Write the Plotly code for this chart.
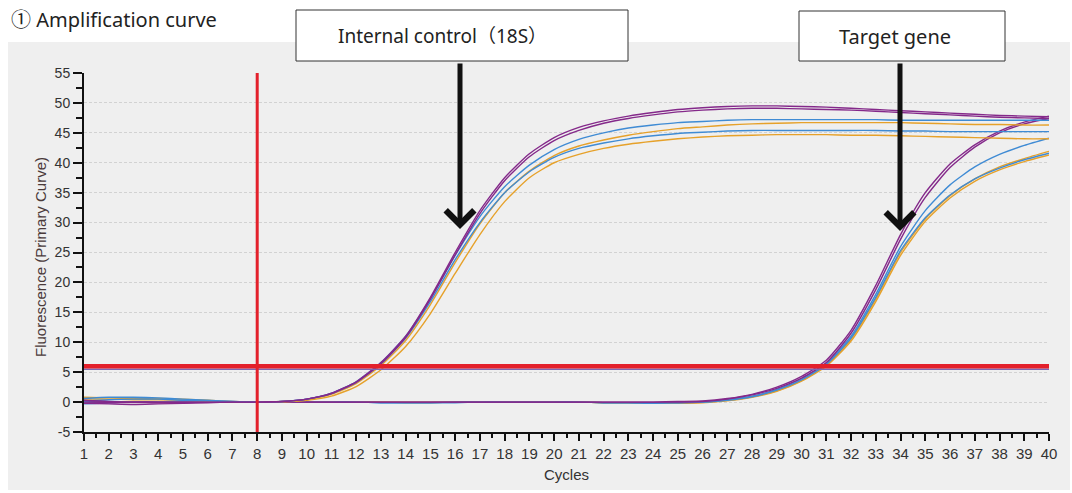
import plotly.graph_objects as go

# ---------------- data ----------------
cycles = [1, 2, 3, 4, 5, 6, 7, 8, 9, 10, 11, 12, 13, 14, 15, 16, 17, 18, 19, 20,
          21, 22, 23, 24, 25, 26, 27, 28, 29, 30, 31, 32, 33, 34, 35, 36, 37, 38, 39, 40]

# Internal control (18S) curves
ic_purple_1 = [0.3, 0.1, 0.0, 0.0, 0.0, 0.0, 0.0, 0.0, 0.1, 0.5, 1.5, 3.4, 6.6, 11.0, 17.5, 25.0, 32.0, 37.5, 41.5, 44.2,
               45.9, 47.0, 47.8, 48.4, 48.9, 49.2, 49.4, 49.5, 49.5, 49.4, 49.3, 49.1, 48.9, 48.7, 48.5, 48.3, 48.1, 47.9, 47.8, 47.7]
ic_purple_2 = [-0.2, -0.3, -0.4, -0.3, -0.2, -0.1, 0.0, 0.0, 0.1, 0.5, 1.4, 3.3, 6.4, 10.8, 17.2, 24.6, 31.5, 37.0, 41.0, 43.7,
               45.4, 46.6, 47.4, 48.0, 48.5, 48.8, 49.0, 49.1, 49.1, 49.0, 48.9, 48.8, 48.6, 48.4, 48.2, 48.0, 47.8, 47.6, 47.5, 47.4]
ic_blue_1 = [0.6, 0.8, 0.8, 0.7, 0.5, 0.3, 0.1, 0.0, 0.1, 0.5, 1.5, 3.4, 6.6, 11.0, 17.3, 24.5, 31.0, 36.0, 39.6, 42.2,
             43.9, 45.0, 45.8, 46.3, 46.7, 46.9, 47.1, 47.2, 47.2, 47.2, 47.2, 47.2, 47.2, 47.1, 47.1, 47.1, 47.1, 47.1, 47.1, 47.1]
ic_orange_1 = [0.8, 0.7, 0.6, 0.6, 0.5, 0.3, 0.1, 0.0, 0.1, 0.4, 1.3, 3.1, 6.1, 10.3, 16.3, 23.3, 29.8, 35.0, 38.6, 41.2,
               42.8, 43.8, 44.6, 45.2, 45.7, 46.0, 46.3, 46.5, 46.6, 46.7, 46.7, 46.7, 46.7, 46.7, 46.6, 46.5, 46.4, 46.4, 46.3, 46.3]
ic_blue_2 = [0.2, 0.4, 0.5, 0.5, 0.3, 0.2, 0.1, 0.0, 0.1, 0.5, 1.4, 3.3, 6.4, 10.7, 16.8, 23.8, 30.0, 35.0, 38.5, 40.9,
             42.4, 43.3, 44.0, 44.5, 44.9, 45.1, 45.3, 45.4, 45.4, 45.4, 45.4, 45.4, 45.4, 45.3, 45.3, 45.2, 45.2, 45.2, 45.2, 45.2]
ic_orange_2 = [0.5, 0.5, 0.4, 0.4, 0.3, 0.2, 0.0, 0.0, 0.05, 0.3, 1.0, 2.6, 5.4, 9.3, 14.8, 21.5, 28.0, 33.5, 37.5, 40.0,
               41.4, 42.4, 43.1, 43.6, 44.0, 44.3, 44.5, 44.6, 44.7, 44.7, 44.7, 44.6, 44.6, 44.5, 44.4, 44.3, 44.2, 44.1, 44.0, 44.0]

# Target gene curves
tg_purple_1 = [0.1, 0.0, 0.0, -0.1, -0.1, 0.0, 0.0, 0.0, 0.0, 0.0, 0.0, 0.0, 0.0, 0.0, 0.0, 0.0, 0.0, 0.0, 0.0, 0.0,
               0.0, 0.0, 0.0, 0.0, 0.1, 0.2, 0.6, 1.3, 2.5, 4.3, 7.0, 12.0, 19.5, 28.0, 35.0, 39.8, 43.0, 45.3, 46.8, 47.8]
tg_purple_2 = [-0.2, -0.1, 0.0, 0.0, 0.0, 0.0, 0.0, 0.0, 0.0, 0.0, 0.0, 0.0, 0.0, 0.0, 0.0, 0.0, 0.0, 0.0, 0.0, 0.0,
               0.0, 0.0, 0.0, 0.0, 0.0, 0.1, 0.5, 1.2, 2.3, 4.0, 6.6, 11.5, 18.8, 27.2, 34.2, 39.2, 42.6, 45.0, 46.5, 47.4]
tg_blue_1 = [-0.3, -0.1, 0.0, 0.0, 0.0, 0.0, 0.0, 0.0, 0.0, 0.0, 0.0, 0.0, -0.1, -0.1, -0.1, 0.0, 0.0, 0.0, 0.0, 0.0,
             0.0, -0.1, -0.1, -0.1, -0.1, 0.0, 0.4, 1.0, 2.1, 3.9, 6.5, 11.0, 18.0, 26.0, 32.0, 36.3, 39.3, 41.4, 42.9, 44.1]
tg_blue_2 = [0.0, 0.0, 0.0, 0.0, 0.0, 0.0, 0.0, 0.0, 0.0, 0.0, 0.0, 0.0, -0.1, -0.1, -0.1, -0.1, 0.0, 0.0, 0.0, 0.0,
             0.0, -0.1, -0.1, -0.2, -0.1, 0.0, 0.3, 0.9, 2.0, 3.7, 6.3, 10.7, 17.5, 25.3, 30.8, 34.6, 37.3, 39.1, 40.5, 41.6]
tg_orange_1 = [0.1, 0.0, 0.0, 0.0, 0.0, 0.0, 0.0, 0.0, 0.0, 0.0, 0.0, 0.0, 0.0, -0.1, -0.1, 0.0, 0.0, 0.0, 0.0, 0.0,
               0.0, -0.1, -0.1, -0.1, -0.1, 0.0, 0.3, 0.9, 1.9, 3.6, 6.2, 10.5, 17.2, 25.0, 30.6, 34.5, 37.3, 39.3, 40.7, 41.9]
tg_orange_2 = [0.0, 0.0, 0.0, 0.0, 0.0, 0.0, 0.0, 0.0, 0.0, 0.0, 0.0, 0.0, 0.0, 0.0, 0.0, 0.0, 0.0, 0.0, 0.0, 0.0,
               0.0, -0.1, -0.1, -0.2, -0.2, -0.1, 0.2, 0.8, 1.8, 3.5, 6.0, 10.2, 16.8, 24.5, 30.2, 34.1, 36.9, 38.8, 40.2, 41.3]

threshold_red = 6.0
threshold_second = 5.5
baseline_end_cycle = 8

x_tick_labels = [str(c) for c in cycles]
y_tick_values = [-5, 0, 5, 10, 15, 20, 25, 30, 35, 40, 45, 50, 55]
y_tick_labels = ["-5", "0", "5", "10", "15", "20", "25", "30", "35", "40", "45", "50", "55"]

PURPLE = "#84298a"
BLUE = "#3f8bd4"
ORANGE = "#e6a12a"
RED = "#e3202b"

series = [
    (tg_orange_2, ORANGE), (tg_orange_1, ORANGE), (tg_blue_2, BLUE), (tg_blue_1, BLUE),
    (tg_purple_2, PURPLE), (tg_purple_1, PURPLE),
    (ic_orange_2, ORANGE), (ic_orange_1, ORANGE), (ic_blue_2, BLUE), (ic_blue_1, BLUE),
    (ic_purple_2, PURPLE), (ic_purple_1, PURPLE),
]

fig = go.Figure()
for vals, col in series:
    fig.add_trace(go.Scatter(x=cycles, y=vals, mode="lines",
                             line=dict(color=col, width=1.4, shape="spline", smoothing=0.6),
                             showlegend=False, hoverinfo="skip"))

# ---------------- layout helpers (pixel -> paper) ----------------
L, R, T, B = 84, 1049, 73, 432
W, H = R - L, B - T
def px(xp):
    return (xp - L) / W
def py(yp):
    return (B - yp) / H

shapes = [
    # gray panel
    dict(type="rect", xref="paper", yref="paper", x0=px(8), x1=px(1070), y0=py(490), y1=py(42),
         fillcolor="#efefef", line=dict(width=0), layer="below"),
    # second (thin) threshold
    dict(type="line", xref="paper", yref="y", x0=0, x1=1, y0=threshold_second, y1=threshold_second,
         line=dict(color="#7d67b3", width=1.5), layer="above"),
    # red threshold
    dict(type="line", xref="paper", yref="y", x0=0, x1=1, y0=threshold_red, y1=threshold_red,
         line=dict(color=RED, width=4.5), layer="above"),
    # red vertical baseline-end line
    dict(type="line", xref="x", yref="paper", x0=baseline_end_cycle, x1=baseline_end_cycle, y0=0, y1=1,
         line=dict(color=RED, width=3), layer="above"),
    # annotation boxes
    dict(type="rect", xref="paper", yref="paper", x0=px(296), x1=px(628), y0=py(61), y1=py(10),
         fillcolor="white", line=dict(color="#333333", width=1), layer="above"),
    dict(type="rect", xref="paper", yref="paper", x0=px(799), x1=px(1005), y0=py(61), y1=py(11),
         fillcolor="white", line=dict(color="#333333", width=1), layer="above"),
]

TXT_FONT = "Noto Sans, Liberation Sans, Arial, Noto Sans CJK JP, sans-serif"
TICK_FONT = dict(family="Liberation Sans, Arial, sans-serif", size=14, color="#333333")
XTICK_FONT = dict(family="Liberation Sans Narrow, Liberation Sans, Arial, sans-serif", size=15, color="#333333")

annotations = [
    dict(text="① Amplification curve", xref="paper", yref="paper", x=px(9), y=py(19),
         xanchor="left", yanchor="middle", showarrow=False,
         font=dict(family=TXT_FONT, size=20, color="#222222")),
    dict(text="Internal control（18S）", xref="paper", yref="paper", x=px(442), y=py(36),
         xanchor="center", yanchor="middle", showarrow=False,
         font=dict(family=TXT_FONT, size=19, color="#222222")),
    dict(text="Target gene", xref="paper", yref="paper", x=px(895), y=py(36),
         xanchor="center", yanchor="middle", showarrow=False,
         font=dict(family=TXT_FONT, size=20, color="#222222")),
    # arrows
    dict(text="", xref="paper", yref="paper", x=px(460), y=py(229), ax=0, ay=-167,
         showarrow=True, arrowhead=4, arrowsize=1.1, arrowwidth=5, arrowcolor="#111111"),
    dict(text="", xref="paper", yref="paper", x=px(900), y=py(231), ax=0, ay=-169,
         showarrow=True, arrowhead=4, arrowsize=1.1, arrowwidth=5, arrowcolor="#111111"),
    # axis titles
    dict(text="Fluorescence (Primary Curve)", xref="paper", yref="paper", x=px(40), y=py(257),
         xanchor="center", yanchor="middle", textangle=-90, showarrow=False,
         font=dict(family="Liberation Sans, Arial, sans-serif", size=15, color="#4a3a3a")),
    dict(text="Cycles", xref="paper", yref="paper", x=px(566), y=py(474),
         xanchor="center", yanchor="middle", showarrow=False,
         font=dict(family="Liberation Sans Narrow, Liberation Sans, Arial, sans-serif", size=15, color="#333333")),
]

fig.update_layout(
    width=1072, height=493, autosize=False,
    margin=dict(l=L, r=1072 - R, t=T, b=493 - B, pad=0),
    paper_bgcolor="white", plot_bgcolor="white",
    showlegend=False,
    shapes=shapes, annotations=annotations,
    xaxis=dict(range=[1, 40], tickmode="array", tickvals=cycles, ticktext=x_tick_labels,
               showgrid=False, zeroline=False, showline=True, linecolor="#111111", linewidth=2,
               ticks="outside", ticklen=7, tickwidth=2, tickcolor="#111111", tickfont=XTICK_FONT,
               minor=dict(dtick=0.5, tick0=1, ticks="outside", ticklen=4, tickwidth=2, tickcolor="#111111", showgrid=False),
               fixedrange=True),
    yaxis=dict(range=[-5, 55], tickmode="array", tickvals=y_tick_values, ticktext=y_tick_labels,
               showgrid=True, gridcolor="#d2d2d2", griddash="3px,2px", gridwidth=1,
               zeroline=False, showline=True, linecolor="#111111", linewidth=2,
               ticks="outside", ticklen=9, tickwidth=2, tickcolor="#111111", tickfont=TICK_FONT,
               minor=dict(dtick=2.5, tick0=0, ticks="outside", ticklen=6, tickwidth=2, tickcolor="#111111", showgrid=False),
               fixedrange=True),
)

fig.write_html("out.html", config={"displayModeBar": False},
               post_script="document.body.style.margin='0';")
